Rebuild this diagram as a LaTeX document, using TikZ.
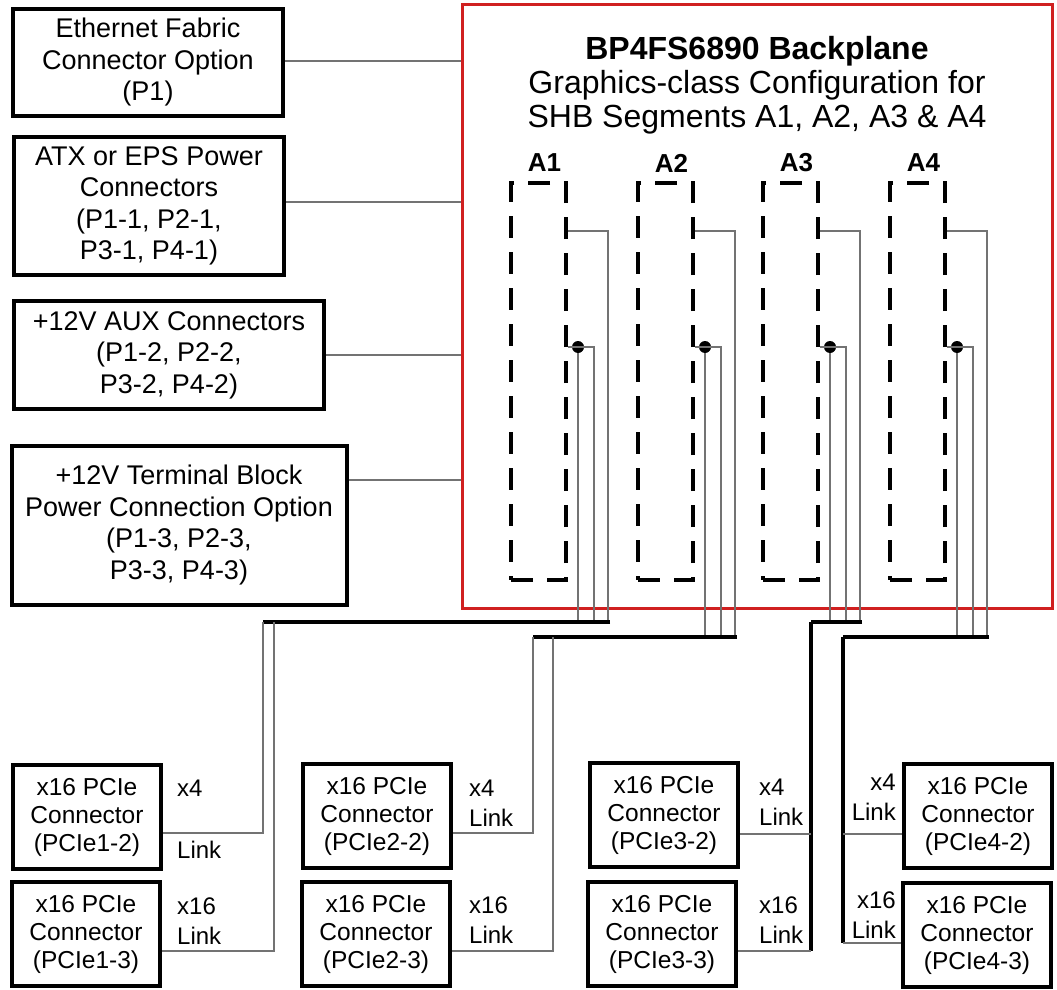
\documentclass[tikz,border=0pt]{standalone}
\usepackage{fontspec}
\setmainfont{Liberation Sans}
\usetikzlibrary{calc}

\definecolor{bpred}{RGB}{208,32,32}

\begin{document}
\begin{tikzpicture}
    [   x=1pt, y=-1pt,
        box/.style 2 args={draw=black,line width=4pt,minimum width=#1,minimum height=#2,inner sep=0pt,align=center,font=\fontsize{27}{31.5}\selectfont},
        pbox/.style={draw=black,line width=4pt,minimum width=148pt,minimum height=104pt,inner sep=0pt,align=center,font=\fontsize{24.5}{28}\selectfont},
        slot/.style={draw=black,line width=4pt,dash pattern=on 22pt off 14pt,minimum width=55pt,minimum height=397pt,inner sep=0pt},
        dot/.style={circle,fill=black,minimum size=12pt,inner sep=0pt},
        wire/.style={draw=black!55,line width=1.1pt},
        bus/.style={draw=black,line width=4pt},
        lnk/.style={font=\fontsize{24}{30}\selectfont,inner sep=0pt},
    ]
        \useasboundingbox (0,0) rectangle (1057,990);

        % backplane
        \node[draw=bpred,line width=3pt,minimum width=590pt,minimum height=603pt,inner sep=0pt] (bp) at (757,306.5) {};
        \node[align=center,font=\fontsize{32}{34}\selectfont] (title) at (757,85)
            {\textbf{BP4FS6890 Backplane}\\Graphics-class Configuration for\\SHB Segments A1, A2, A3 \& A4};

        % power and fabric options
        \node[box={270pt}{107pt}] (eth) at (148,62.5) {Ethernet Fabric\\Connector Option\\(P1)};
        \node[box={270pt}{138pt}] (atx) at (149,206) {ATX or EPS Power\\Connectors\\(P1-1, P2-1,\\P3-1, P4-1)};
        \node[box={310pt}{108pt}] (aux) at (169,355) {+12V AUX Connectors\\(P1-2, P2-2,\\P3-2, P4-2)};
        \node[box={335pt}{159pt}] (tb) at (179,525) {+12V Terminal Block\\Power Connection Option\\(P1-3, P2-3,\\P3-3, P4-3)};
        \foreach \b/\y in {eth/61,atx/202,aux/355,tb/480}
            \draw[wire] (\b.east |- 0,\y) -- (bp.west |- 0,\y);

        % segments
        \foreach \i/\xl/\by/\bl in {1/511/622/263,2/638/637/533,3/763/622/811,4/890/637/843}
        {   \node[slot] (a\i) at (\xl+27.5,381.5) {};
            \node[font=\bfseries\fontsize{26}{26}\selectfont] (n\i) at (\xl+33.5,163) {A\i};
            \node[dot] (d\i) at (\xl+67,347) {};
            \coordinate (b\i) at (\bl,\by);
            \draw[wire] (a\i.east |- 0,231) -| (\xl+97,\by);
            \draw[wire] (a\i.east |- 0,347) -| (\xl+83,\by);
            \draw[wire] (d\i) -- (d\i |- b\i);
            \draw[bus] (\xl+99,\by) -- (b\i);
        }

        % slot connectors
        \node[pbox] (p12) at (87,817) {x16 PCIe\\Connector\\(PCIe1-2)};
        \node[pbox] (p13) at (86,934) {x16 PCIe\\Connector\\(PCIe1-3)};
        \node[pbox] (p22) at (377,816) {x16 PCIe\\Connector\\(PCIe2-2)};
        \node[pbox] (p23) at (376,934) {x16 PCIe\\Connector\\(PCIe2-3)};
        \node[pbox] (p32) at (664,815) {x16 PCIe\\Connector\\(PCIe3-2)};
        \node[pbox] (p33) at (662,934) {x16 PCIe\\Connector\\(PCIe3-3)};
        \node[pbox] (p42) at (978,816) {x16 PCIe\\Connector\\(PCIe4-2)};
        \node[pbox] (p43) at (977,935) {x16 PCIe\\Connector\\(PCIe4-3)};

        \draw[wire] (b1) |- (p12.east |- 0,833);
        \draw[wire] (274,622) |- (p13.east |- 0,951);
        \draw[wire] (b2) |- (p22.east |- 0,833);
        \draw[wire] (553,637) |- (p23.east |- 0,951);
        \draw[bus] (b3) -- (b3 |- 0,951);
        \draw[wire] (p32.east |- 0,834) -- (b3 |- 0,834);
        \draw[wire] (p33.east |- 0,951) -- (b3 |- 0,951);
        \draw[bus] (b4) -- (b4 |- 0,943);
        \draw[wire] (p42.west |- 0,834) -- (b4 |- 0,834);
        \draw[wire] (p43.west |- 0,943) -- (b4 |- 0,943);

        % link widths
        \node[lnk,anchor=west] (w12) at (177,788) {x4};
        \node[lnk,anchor=west] (k12) at (177,850) {Link};
        \node[lnk,anchor=west,align=left] (w13) at (177,921) {x16\\Link};
        \node[lnk,anchor=west,align=left] (w22) at (469,803) {x4\\Link};
        \node[lnk,anchor=west,align=left] (w23) at (469,920) {x16\\Link};
        \node[lnk,anchor=west,align=left] (w32) at (759,802) {x4\\Link};
        \node[lnk,anchor=west,align=left] (w33) at (759,920) {x16\\Link};
        \node[lnk,anchor=east,align=right] (w42) at (896,797) {x4\\Link};
        \node[lnk,anchor=east,align=right] (w43) at (896,915) {x16\\Link};
    \end{tikzpicture}
\end{document}
